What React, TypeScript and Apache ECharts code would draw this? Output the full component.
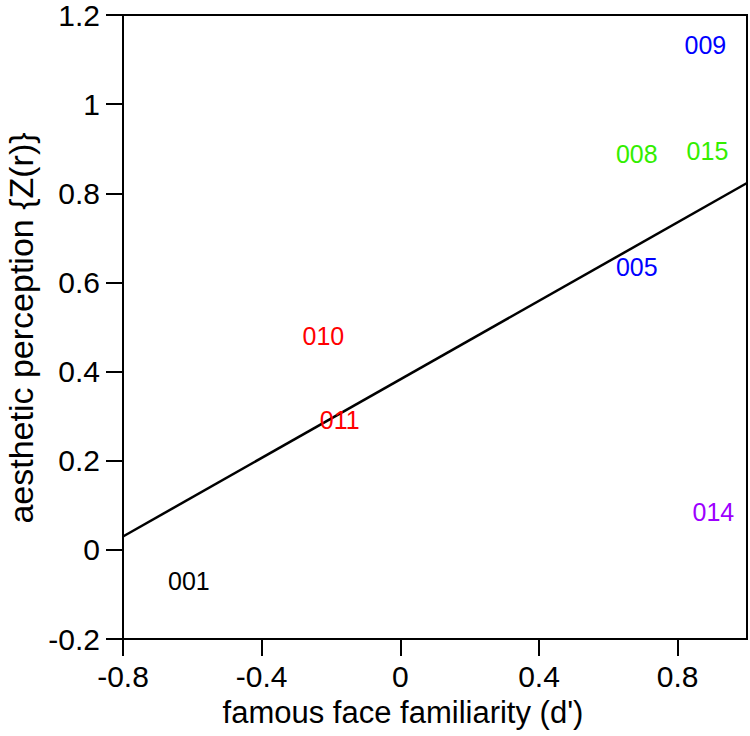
import React, { useEffect, useRef } from "react";
import * as echarts from "echarts";

const xTicks = [-0.8, -0.4, 0, 0.4, 0.8];
const yTicks = [-0.2, 0, 0.2, 0.4, 0.6, 0.8, 1, 1.2];

const pointNames = ["001", "010", "011", "005", "008", "015", "009", "014"];
const pointX = [-0.61, -0.222, -0.175, 0.682, 0.682, 0.886, 0.88, 0.903];
const pointY = [-0.07, 0.48, 0.292, 0.635, 0.888, 0.895, 1.133, 0.085];
const pointColors = ["#000000", "#ff0000", "#ff0000", "#0000ff", "#33ee00", "#33ee00", "#0000ff", "#9d00ff"];

const fitX = [-0.8, 1.0];
const fitY = [0.03, 0.823];

const FONT = "Liberation Sans, Arial, Helvetica, sans-serif";

export default function App() {
  const ref = useRef<HTMLDivElement>(null);
  useEffect(() => {
    document.body.style.margin = "0";
    if (!ref.current) return;
    const chart = echarts.init(ref.current, null, { renderer: "svg" });
    const option: any = {
      animation: false,
      backgroundColor: "#ffffff",
      grid: {
        left: 123,
        right: 3,
        top: 15,
        bottom: 97,
        show: true,
        borderColor: "#000",
        borderWidth: 2,
        backgroundColor: "transparent",
      },
      xAxis: {
        type: "value",
        min: -0.8,
        max: 1.0,
        splitLine: { show: false },
        axisLine: { show: true, onZero: false, lineStyle: { color: "#000", width: 2 } },
        axisTick: { show: true, length: 17, customValues: xTicks, lineStyle: { color: "#000", width: 2 } },
        axisLabel: {
          customValues: xTicks,
          margin: 22,
          color: "#000",
          fontSize: 30,
          fontFamily: FONT,
          formatter: (v: number) => String(Math.round(v * 10) / 10),
        },
      },
      yAxis: {
        type: "value",
        min: -0.2,
        max: 1.2,
        interval: 0.2,
        splitLine: { show: false },
        axisLine: { show: true, onZero: false, lineStyle: { color: "#000", width: 2 } },
        axisTick: { show: true, length: 17, customValues: yTicks, lineStyle: { color: "#000", width: 2 } },
        axisLabel: {
          customValues: yTicks,
          margin: 23,
          color: "#000",
          fontSize: 30,
          fontFamily: FONT,
          formatter: (v: number) => String(Math.round(v * 10) / 10),
        },
      },
      graphic: [
        {
          type: "text",
          x: 403,
          y: 712,
          style: {
            text: "famous face familiarity (d')",
            fontSize: 31,
            fontFamily: FONT,
            fill: "#000",
            align: "center",
            verticalAlign: "middle",
          },
        },
        {
          type: "text",
          x: 21,
          y: 328,
          rotation: Math.PI / 2,
          style: {
            text: "aesthetic perception {Z(r)}",
            fontSize: 34,
            fontFamily: FONT,
            fill: "#000",
            align: "center",
            verticalAlign: "middle",
          },
        },
      ],
      series: [
        {
          type: "line",
          data: fitX.map((x, i) => [x, fitY[i]]),
          symbol: "none",
          lineStyle: { color: "#000", width: 2.5 },
          z: 2,
        },
        {
          type: "scatter",
          symbol: "circle",
          symbolSize: 1,
          itemStyle: { color: "rgba(0,0,0,0)" },
          data: pointNames.map((n, i) => ({
            name: n,
            value: [pointX[i], pointY[i]],
            label: { color: pointColors[i] },
          })),
          label: {
            show: true,
            position: "inside",
            formatter: (p: any) => p.name,
            fontSize: 25,
            fontFamily: FONT,
            opacity: 1,
            textBorderWidth: 0,
          },
          z: 3,
        },
      ],
    };
    chart.setOption(option);
    return () => chart.dispose();
  }, []);
  return <div ref={ref} style={{ width: 750, height: 736 }} />;
}
